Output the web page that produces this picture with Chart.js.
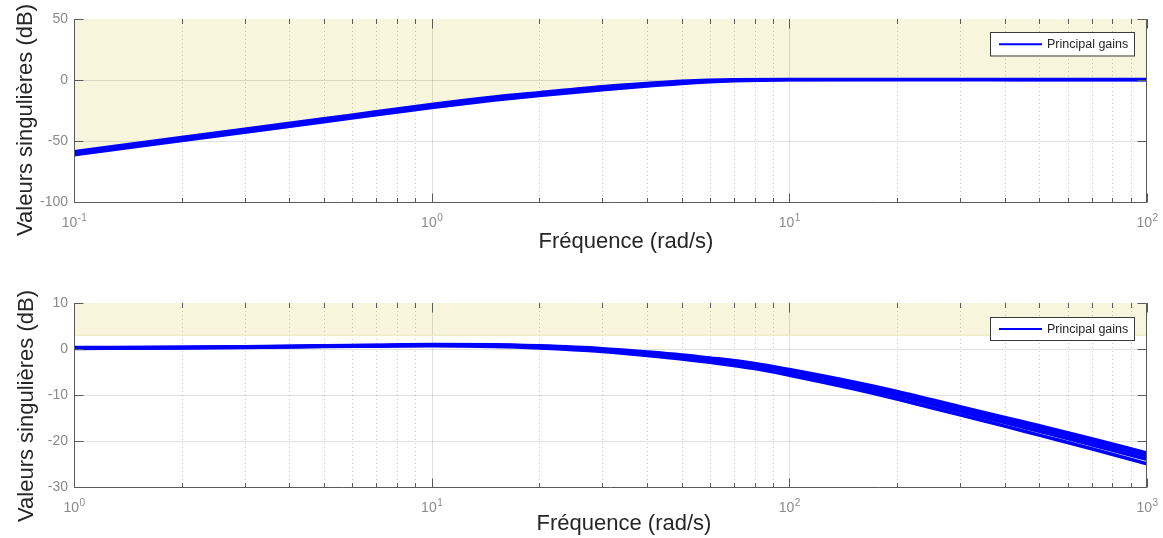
<!DOCTYPE html>
<html>
<head>
<meta charset="utf-8">
<script src="https://cdn.jsdelivr.net/npm/chart.js@4.4.1/dist/chart.umd.min.js"></script>
<style>
html,body{margin:0;padding:0;background:#fff;}
canvas{display:block;}
</style>
</head>
<body>
<canvas id="c1" width="1163" height="269"></canvas>
<canvas id="c2" width="1163" height="269"></canvas>
<script>
// ---------- DATA ----------
// Top panel: singular values (dB) vs frequency (rad/s)
const topFreq   = [0.1, 0.2, 0.3, 0.5, 0.7, 1, 1.5, 2, 3, 4, 5, 7, 10, 20, 50, 100];
const topSigma1 = [-58.6, -47.0, -40.2, -31.6, -25.9, -19.9, -13.8, -10.2, -5.3, -2.6, -0.8, 0.5, 0.7, 0.7, 0.6, 0.6];
const topSigma2 = [-60.0, -48.4, -41.6, -33.0, -27.3, -21.3, -15.2, -11.5, -6.7, -3.8, -1.9, -0.2, 0.3, 0.4, 0.3, 0.3];
const topSigma3 = [-61.4, -49.8, -43.0, -34.4, -28.7, -22.7, -16.7, -13.0, -8.2, -5.1, -3.0, -0.9, -0.1, 0.1, 0.0, 0.0];

// Bottom panel
const botFreq   = [1, 2, 3, 5, 7, 10, 15, 20, 30, 40, 50, 60, 80, 100, 150, 200, 300, 400, 500, 700, 1000];
const botSigma1 = [0.30, 0.40, 0.50, 0.70, 0.84, 0.98, 0.94, 0.68, 0.08, -0.64, -1.28, -1.94, -3.14, -4.46, -7.12, -9.22, -12.52, -14.88, -16.68, -19.50, -22.60];
const botSigma2 = [0.25, 0.35, 0.45, 0.65, 0.77, 0.89, 0.82, 0.54, -0.11, -0.87, -1.54, -2.22, -3.47, -4.83, -7.56, -9.71, -13.06, -15.44, -17.29, -20.15, -23.30];
const botSigma3 = [0.20, 0.30, 0.40, 0.60, 0.70, 0.80, 0.70, 0.40, -0.30, -1.10, -1.80, -2.50, -3.80, -5.20, -8.00, -10.20, -13.60, -16.00, -17.90, -20.80, -24.00];
const botSigma4 = [0.13, 0.23, 0.33, 0.53, 0.60, 0.68, 0.54, 0.21, -0.56, -1.41, -2.15, -2.88, -4.25, -5.70, -8.60, -10.87, -14.33, -16.76, -18.73, -21.68, -24.95];

// Bottom panel shaded bound (dB)
const botBoundFreq = [1, 1000];
const botBound     = [3, 3];

// Axis ranges / labels
const topXRange = [0.1, 100];
const topYRange = [-100, 50];
const topYStep  = 50;
const botXRange = [1, 1000];
const botYRange = [-30, 10];
const botYStep  = 10;
const xTitleText = 'Fréquence (rad/s)';
const yTitleText = 'Valeurs singulières (dB)';
const legendText = 'Principal gains';

// ---------- STYLE ----------
const FONT = "'Liberation Sans', Arial, Helvetica, sans-serif";
const YELLOW = '#f7f6dc';
const BLUE = '#0000ff';
const AXIS = '#5a5a5a';
const TICKLBL = '#8a8a8a';
const TITLE = '#262626';

function pts(xs, ys) { return xs.map((x, i) => ({x: x, y: ys[i]})); }
function isPow10(v) { const l = Math.log10(v); return Math.abs(l - Math.round(l)) < 1e-9; }

const matlabAxes = {
  id: 'matlabAxes',
  beforeDatasetsDraw(chart) {
    const {ctx, chartArea: a, scales: {x, y}} = chart;
    ctx.save();
    ctx.beginPath(); ctx.rect(a.left, a.top, a.right - a.left, a.bottom - a.top); ctx.clip();
    x.ticks.forEach(t => {
      const px = Math.round(x.getPixelForValue(t.value)) + 0.5;
      if (px <= a.left + 1 || px >= a.right - 1) return;
      ctx.beginPath();
      if (isPow10(t.value)) { ctx.setLineDash([]); ctx.strokeStyle = 'rgba(0,0,0,0.12)'; }
      else { ctx.setLineDash([1, 3]); ctx.strokeStyle = 'rgba(0,0,0,0.22)'; }
      ctx.lineWidth = 1;
      ctx.moveTo(px, a.top); ctx.lineTo(px, a.bottom); ctx.stroke();
    });
    ctx.setLineDash([]);
    y.ticks.forEach(t => {
      const py = Math.round(y.getPixelForValue(t.value)) + 0.5;
      if (py <= a.top + 1 || py >= a.bottom - 1) return;
      ctx.beginPath(); ctx.strokeStyle = 'rgba(0,0,0,0.12)'; ctx.lineWidth = 1;
      ctx.moveTo(a.left, py); ctx.lineTo(a.right, py); ctx.stroke();
    });
    ctx.restore();
  },
  afterDraw(chart, args, opts) {
    const {ctx, chartArea: a, scales: {x, y}} = chart;
    ctx.save();
    const L = Math.round(a.left) + 0.5, R = Math.round(a.right) - 0.5, B = Math.round(a.bottom) + 0.5, T = Math.round(a.top) + 0.5;
    ctx.strokeStyle = AXIS; ctx.lineWidth = 1;
    ctx.beginPath();
    ctx.moveTo(L, T); ctx.lineTo(L, B); ctx.lineTo(R, B); ctx.lineTo(R, T);
    ctx.stroke();
    x.ticks.forEach(t => {
      const px = Math.round(x.getPixelForValue(t.value)) + 0.5;
      const len = isPow10(t.value) ? 9 : 4.5;
      ctx.beginPath();
      ctx.moveTo(px, B); ctx.lineTo(px, B - len);
      ctx.moveTo(px, T - 0.5); ctx.lineTo(px, T + len);
      ctx.stroke();
    });
    y.ticks.forEach(t => {
      const py = Math.round(y.getPixelForValue(t.value)) + 0.5;
      ctx.beginPath();
      ctx.moveTo(L, py); ctx.lineTo(L + 9, py);
      ctx.moveTo(R, py); ctx.lineTo(R - 9, py);
      ctx.stroke();
    });
    ctx.fillStyle = TICKLBL;
    ctx.textBaseline = 'alphabetic';
    ctx.textAlign = 'left';
    x.ticks.forEach(t => {
      if (!isPow10(t.value)) return;
      const px = x.getPixelForValue(t.value);
      const e = String(Math.round(Math.log10(t.value)));
      ctx.font = '14px ' + FONT;
      const w1 = ctx.measureText('10').width;
      ctx.font = '10px ' + FONT;
      const w2 = ctx.measureText(e).width;
      const x0 = px - (w1 + w2) / 2;
      ctx.font = '14px ' + FONT;
      ctx.fillText('10', x0, a.bottom + opts.tickLabelOffset);
      ctx.font = '10px ' + FONT;
      ctx.fillText(e, x0 + w1 + 0.5, a.bottom + opts.tickLabelOffset - 6);
    });
    ctx.fillStyle = TITLE;
    ctx.font = '22px ' + FONT;
    ctx.textAlign = 'center';
    ctx.fillText(opts.xTitle, opts.xTitleX, opts.xTitleBaseline);
    ctx.save();
    ctx.translate(opts.yTitleBaseline, opts.yTitleCenter);
    ctx.rotate(-Math.PI / 2);
    ctx.fillText(opts.yTitle, 0, 0);
    ctx.restore();
    const lg = opts.legend;
    const ds = chart.data.datasets.find(d => d.label);
    ctx.fillStyle = '#ffffff';
    ctx.fillRect(lg.x, lg.y, lg.w, lg.h);
    ctx.strokeStyle = '#3a3a3a'; ctx.lineWidth = 1;
    ctx.strokeRect(lg.x + 0.5, lg.y + 0.5, lg.w, lg.h);
    const cy = lg.y + lg.h / 2 + 0.5;
    ctx.strokeStyle = ds.borderColor; ctx.lineWidth = 2;
    ctx.beginPath(); ctx.moveTo(lg.x + 9, cy); ctx.lineTo(lg.x + 52, cy); ctx.stroke();
    ctx.fillStyle = TITLE;
    ctx.font = '12.5px ' + FONT;
    ctx.textAlign = 'left';
    ctx.textBaseline = 'middle';
    ctx.fillText(ds.label, lg.x + 57, cy + 0.5);
    ctx.restore();
  }
};

function logTicks(min, max) {
  const out = [];
  for (let e = Math.round(Math.log10(min)); e < Math.round(Math.log10(max)); e++) {
    for (let m = 1; m < 10; m++) out.push({value: m * Math.pow(10, e), major: m === 1});
  }
  out.push({value: max, major: true});
  return out;
}

function makeChart(id, p) {
  const lineDs = (label, data, extra) => Object.assign({
    label: label, data: data, borderColor: BLUE, backgroundColor: BLUE,
    borderWidth: p.lineWidth, pointRadius: 0, fill: false, cubicInterpolationMode: 'monotone'
  }, extra || {});
  return new Chart(document.getElementById(id), {
    type: 'line',
    data: { datasets: p.datasets(lineDs) },
    options: {
      responsive: false, animation: false, devicePixelRatio: 1,
      layout: { padding: { top: p.padTop, right: 16, left: 0, bottom: 0 } },
      plugins: {
        legend: { display: false },
        tooltip: { enabled: false },
        filler: { drawTime: 'beforeDraw' },
        matlabAxes: p.axes
      },
      scales: {
        x: {
          type: 'logarithmic', min: p.xRange[0], max: p.xRange[1],
          afterBuildTicks: s => { s.ticks = logTicks(p.xRange[0], p.xRange[1]); },
          afterFit: s => { s.height = p.xAxisH; },
          grid: { display: false }, border: { display: false },
          ticks: { display: false }
        },
        y: {
          type: 'linear', min: p.yRange[0], max: p.yRange[1],
          ticks: { stepSize: p.yStep, color: TICKLBL, font: { family: FONT, size: 14 }, padding: 6 },
          afterFit: s => { s.width = 74; },
          grid: { display: false, drawTicks: false }, border: { display: false }
        }
      }
    },
    plugins: [matlabAxes]
  });
}

makeChart('c1', {
  xRange: topXRange, yRange: topYRange, yStep: topYStep, padTop: 19, xAxisH: 67, lineWidth: 3,
  datasets: ds => [
    ds(legendText, pts(topFreq, topSigma1), { fill: 'end', backgroundColor: YELLOW }),
    ds('', pts(topFreq, topSigma2)),
    ds('', pts(topFreq, topSigma3))
  ],
  axes: {
    xTitle: xTitleText, yTitle: yTitleText,
    xTitleX: 626, xTitleBaseline: 248, yTitleBaseline: 31.5, yTitleCenter: 120,
    tickLabelOffset: 25,
    legend: { x: 990, y: 32, w: 144, h: 23.5 }
  }
});

makeChart('c2', {
  xRange: botXRange, yRange: botYRange, yStep: botYStep, padTop: 34, xAxisH: 51, lineWidth: 3.5,
  datasets: ds => [
    ds(legendText, pts(botFreq, botSigma1)),
    ds('', pts(botFreq, botSigma2)),
    ds('', pts(botFreq, botSigma3)),
    ds('', pts(botFreq, botSigma4)),
    { label: '', data: pts(botBoundFreq, botBound), borderColor: '#e9e6b4', borderWidth: 1,
      pointRadius: 0, fill: 'end', backgroundColor: YELLOW, tension: 0 }
  ],
  axes: {
    xTitle: xTitleText, yTitle: yTitleText,
    xTitleX: 624, xTitleBaseline: 261, yTitleBaseline: 33, yTitleCenter: 137,
    tickLabelOffset: 25,
    legend: { x: 990, y: 48, w: 144, h: 23 }
  }
});
</script>
</body>
</html>
